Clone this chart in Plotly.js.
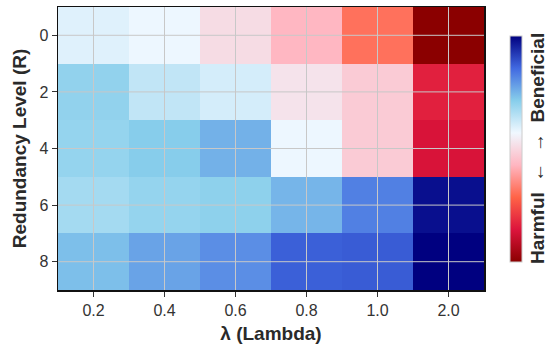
<!DOCTYPE html>
<html>
<head>
<meta charset="utf-8">
<script src="https://cdn.plot.ly/plotly-3.0.1.min.js"></script>
<style>html,body{margin:0;padding:0;background:#fff;}#chart{width:548px;height:350px;}</style>
</head>
<body>
<div id="chart"></div>
<script>
// Data (normalised effect: negative = harmful, positive = beneficial)
const lambdas = ['0.2', '0.4', '0.6', '0.8', '1.0', '2.0'];
const redundancy = [0, 2, 4, 6, 8];
const rowR0 = [0.19, 0.15, 0.02, -0.14, -0.38, -1.00];
const rowR2 = [0.40, 0.27, 0.22, 0.05, -0.05, -0.67];
const rowR4 = [0.39, 0.43, 0.51, 0.15, -0.05, -0.73];
const rowR6 = [0.35, 0.39, 0.41, 0.50, 0.65, 0.96];
const rowR8 = [0.47, 0.55, 0.61, 0.74, 0.75, 1.00];
const yTicks = [0, 2, 4, 6, 8];

const colorNames = ['darkred', 'crimson', 'tomato', 'lightpink', 'aliceblue', 'skyblue', 'royalblue', 'navy'];
const colorscale = colorNames.map((c, i) => [i / (colorNames.length - 1), c]);

const trace = {
  type: 'heatmap',
  x: lambdas,
  y: redundancy,
  z: [rowR0, rowR2, rowR4, rowR6, rowR8],
  colorscale: colorscale,
  hoverinfo: 'skip',
  colorbar: {
    x: 1.061, xanchor: 'left', xpad: 0,
    y: 0.5, yanchor: 'middle', len: 0.8, ypad: 0,
    thickness: 12,
    outlinewidth: 1, outlinecolor: '#cccccc',
    showticklabels: false, ticks: ''
  }
};

const gridColor = '#c8c8c8';
const shapes = [];
// category axis: gridline at each category index
lambdas.forEach((v, i) => shapes.push({type: 'line', xref: 'x', yref: 'paper', x0: i, x1: i, y0: 0, y1: 1,
  line: {color: gridColor, width: 1}, layer: 'above'}));
yTicks.forEach(v => shapes.push({type: 'line', xref: 'paper', yref: 'y', x0: 0, x1: 1, y0: v, y1: v,
  line: {color: gridColor, width: 1}, layer: 'above'}));

const font = {family: 'Liberation Sans, Arial, sans-serif', size: 16, color: '#333333'};
const layout = {
  width: 548, height: 350,
  margin: {l: 58, r: 64, t: 7, b: 60},
  paper_bgcolor: '#ffffff', plot_bgcolor: '#ffffff',
  font: font,
  shapes: shapes,
  annotations: [{
    text: 'Harmful  \u2190  \u2192  Beneficial',
    xref: 'paper', yref: 'paper', x: 1.1256, y: 0.5,
    xanchor: 'center', yanchor: 'middle', textangle: -90, showarrow: false,
    font: {family: 'Liberation Sans, Arial, sans-serif', size: 19, color: '#2a2a2a', weight: 'bold'}
  }],
  xaxis: {
    type: 'category', categoryorder: 'array', categoryarray: lambdas,
    showgrid: false, zeroline: false,
    showline: true, mirror: true, linecolor: '#111111', linewidth: 1.5,
    ticks: 'outside', ticklen: 5, tickcolor: '#333333',
    tickfont: {size: 16, color: '#333333'},
    layer: 'above traces',
    title: {text: '\u03bb (Lambda)', standoff: 9, font: {size: 19, color: '#2a2a2a', weight: 'bold'}}
  },
  yaxis: {
    range: [9, -1], tickvals: yTicks,
    showgrid: false, zeroline: false,
    showline: true, mirror: true, linecolor: '#111111', linewidth: 1.5,
    ticks: 'outside', ticklen: 5, tickcolor: '#333333',
    tickfont: {size: 16, color: '#333333'},
    layer: 'above traces',
    title: {text: 'Redundancy Level (R)', standoff: 7, font: {size: 19, color: '#2a2a2a', weight: 'bold'}}
  }
};

Plotly.newPlot('chart', [trace], layout, {displayModeBar: false, staticPlot: true});
</script>
</body>
</html>
